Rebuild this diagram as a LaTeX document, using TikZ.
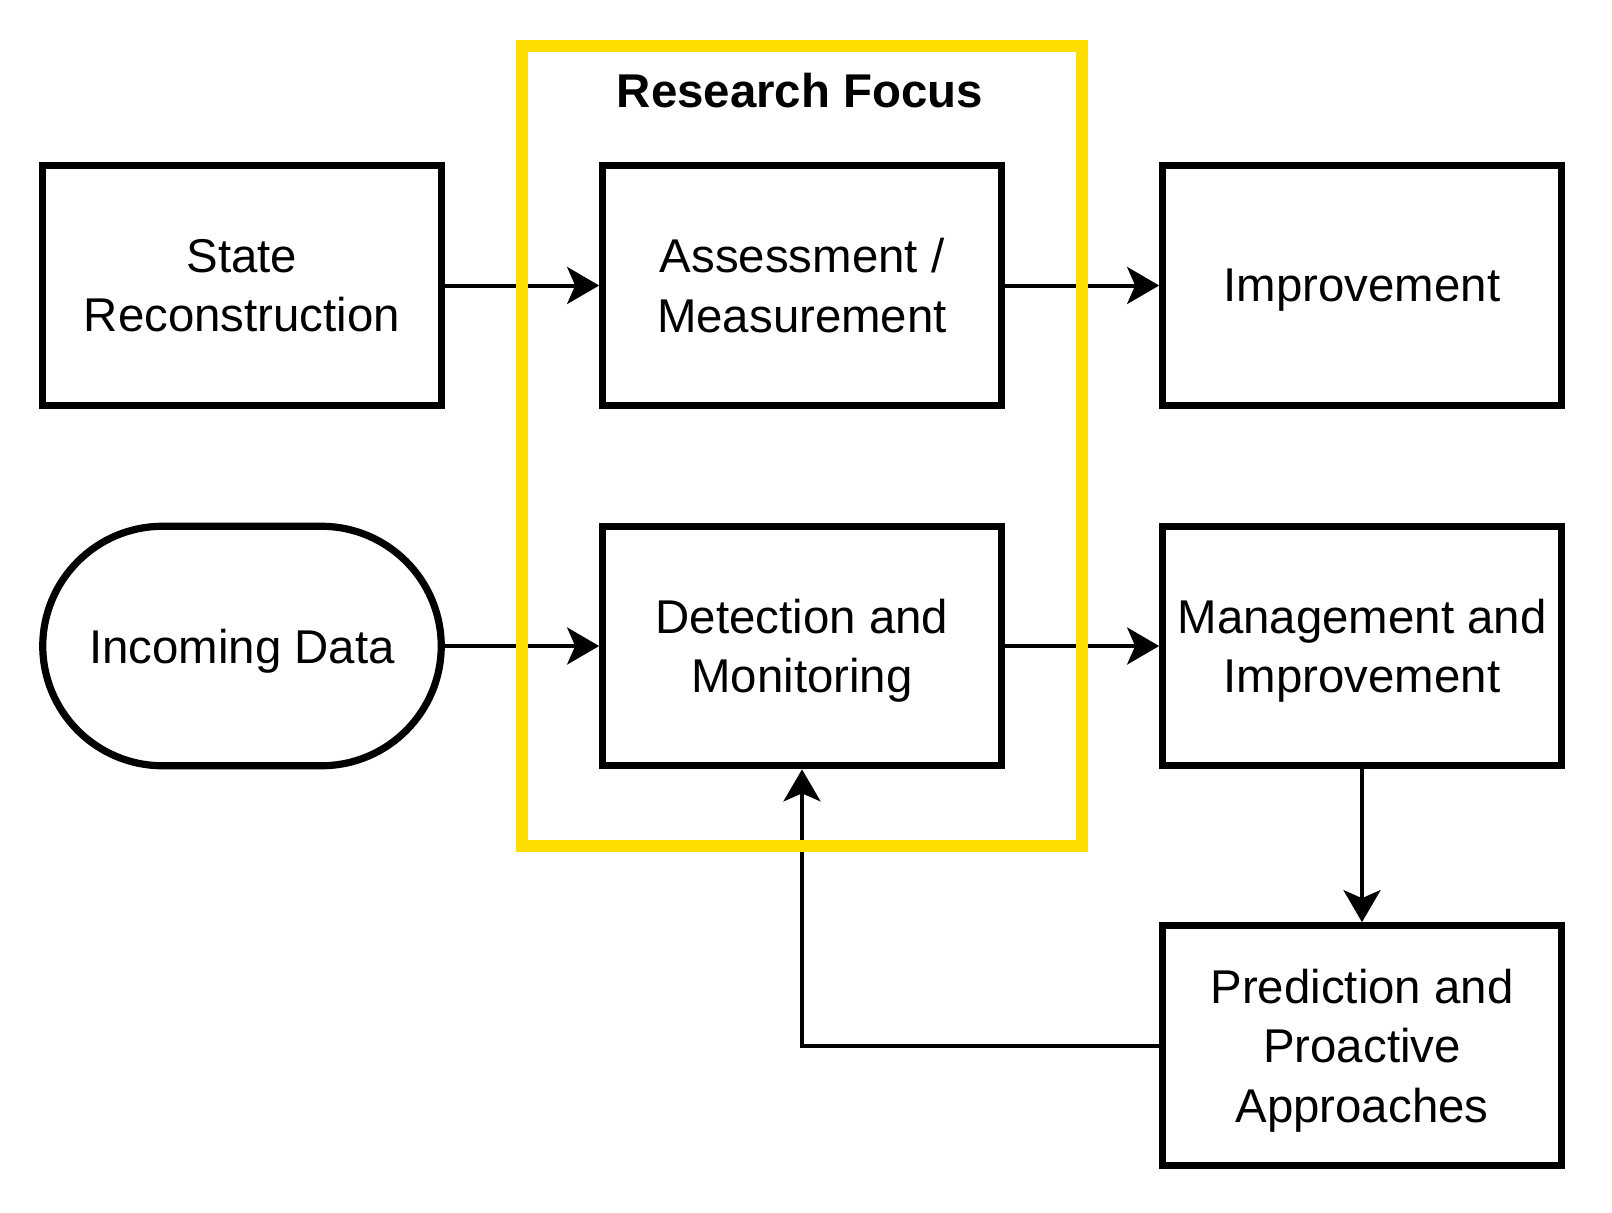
\documentclass[tikz,border=0pt]{standalone}
\usepackage{fontspec}
\setmainfont{Liberation Sans}
\usetikzlibrary{arrows.meta}
\definecolor{focusyellow}{HTML}{FFDD00}
\begin{document}
\begin{tikzpicture}[x=0.5pt,y=-0.5pt,
  box/.style={draw=black, line width=3.6pt, minimum width=199.25pt, minimum height=119.75pt, align=center, inner sep=0pt, text depth=0pt, font=\fontsize{23.7pt}{29.75pt}\selectfont},
  stadium/.style={box, rounded corners=60pt},
  conn/.style={draw=black, line width=2pt, -{Stealth[length=16pt, width=18.5pt, inset=4pt]}},
  focusbox/.style={draw=focusyellow, line width=6pt},
  title/.style={font=\fontsize{23.7pt}{29.75pt}\selectfont\bfseries, inner sep=0pt, anchor=base}
]
\useasboundingbox (0,0) rectangle (1612,1212);
\node[box] (state) at (242,285.5) {State\\Reconstruction};
\node[box] (assess) at (802,285.5) {Assessment /\\Measurement};
\node[box] (improve) at (1362,285.5) {Improvement};
\node[stadium] (incoming) at (242,646) {Incoming Data};
\node[box] (detect) at (802,646) {Detection and\\Monitoring};
\node[box] (manage) at (1362,646) {Management and\\Improvement};
\node[box] (predict) at (1362,1045.5) {Prediction and\\Proactive\\Approaches};
\coordinate (corner) at (802,1045.5);

\draw[conn] (state) -- (assess);
\draw[conn] (assess) -- (improve);
\draw[conn] (incoming) -- (detect);
\draw[conn] (detect) -- (manage);
\draw[conn] (manage) -- (predict);
\draw[conn] (predict.west) -- (corner) -- (detect.south);

\draw[focusbox] (522,46) rectangle (1082,846);
\node[title] (focus) at (800,107.5) {Research Focus};
\end{tikzpicture}
\end{document}
